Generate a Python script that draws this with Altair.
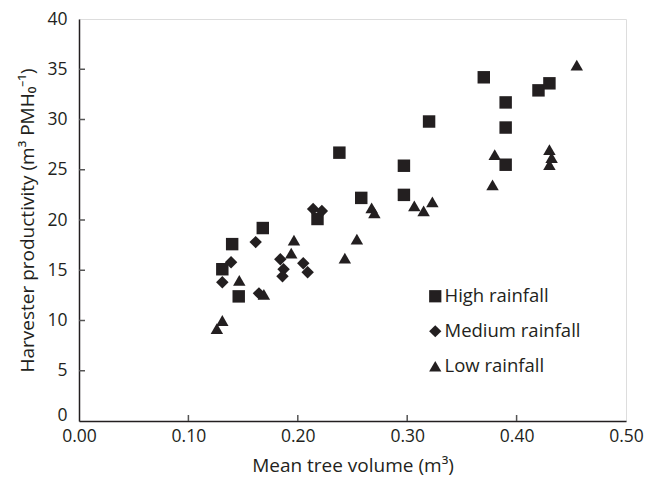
import altair as alt
import pandas as pd

# ---- data ----
groups = ["High rainfall", "Medium rainfall", "Low rainfall"]

high_x = [0.131, 0.140, 0.146, 0.168, 0.218, 0.238, 0.258, 0.297, 0.297, 0.320,
          0.370, 0.390, 0.390, 0.390, 0.420, 0.430]
high_y = [15.1, 17.6, 12.4, 19.2, 20.1, 26.7, 22.2, 25.4, 22.5, 29.8,
          34.2, 31.7, 29.2, 25.5, 32.9, 33.6]

med_x = [0.131, 0.139, 0.1615, 0.1645, 0.184, 0.187, 0.186, 0.205, 0.209, 0.214, 0.222]
med_y = [13.8, 15.8, 17.8, 12.7, 16.1, 15.1, 14.4, 15.7, 14.8, 21.1, 20.9]

low_x = [0.126, 0.131, 0.1465, 0.169, 0.194, 0.1965, 0.243, 0.254, 0.2675, 0.270,
         0.3065, 0.315, 0.323, 0.378, 0.380, 0.430, 0.432, 0.430, 0.455]
low_y = [9.2, 10.0, 14.0, 12.6, 16.7, 18.0, 16.2, 18.1, 21.2, 20.7,
         21.4, 20.9, 21.8, 23.5, 26.5, 27.0, 26.2, 25.5, 35.4]

x_tick_values = [0.0, 0.1, 0.2, 0.3, 0.4, 0.5]
y_tick_values = [0, 5, 10, 15, 20, 25, 30, 35, 40]
x_inner_ticks = [0.1, 0.2, 0.3, 0.4]
y_inner_ticks = [5, 10, 15, 20, 25, 30, 35]

rows = []
for g, xs, ys in zip(groups, [high_x, med_x, low_x], [high_y, med_y, low_y]):
    for xv, yv in zip(xs, ys):
        rows.append({"vol": xv, "prod": yv, "group": g})
df = pd.DataFrame(rows)

INK = "#231f20"
FONT = "Open Sans"
W, H = 547, 402

xscale = alt.Scale(domain=[0, 0.5], nice=False, zero=False)
yscale = alt.Scale(domain=[0, 40], nice=False)

points = alt.Chart(df).mark_point(
    filled=True, opacity=1, size=155, color=INK, strokeWidth=0
).encode(
    x=alt.X("vol:Q", scale=xscale, title="Mean tree volume (m³)",
            axis=alt.Axis(values=x_tick_values, format=".2f", ticks=False, tickSize=0,
                          labelFlush=False, labelPadding=6, labelFontSize=17.5,
                          labelColor=INK, labelFont=FONT, grid=False,
                          domainColor=INK, domainWidth=1.5,
                          titleFont=FONT, titleFontSize=19, titleFontWeight="normal",
                          titleColor=INK, titleY=50, titleBaseline="alphabetic")),
    y=alt.Y("prod:Q", scale=yscale, title="Harvester productivity (m³ PMH₀⁻¹)",
            axis=alt.Axis(values=y_tick_values, ticks=False, tickSize=0,
                          labelFlush=False, labelPadding=12, labelFontSize=17.5,
                          labelOffset={"condition": {"test": "datum.value === 0",
                                                     "value": -6},
                                       "value": 0},
                          labelColor=INK, labelFont=FONT, grid=False,
                          domainColor=INK, domainWidth=1.5,
                          titleFont=FONT, titleFontSize=19, titleFontWeight="normal",
                          titleColor=INK, titleX=-46, titleY=H / 2,
                          titleBaseline="alphabetic")),
    shape=alt.Shape("group:N",
                    scale=alt.Scale(domain=groups,
                                    range=["square", "diamond", "triangle-up"]),
                    legend=alt.Legend(title=None, orient="none", legendX=347, legendY=268,
                                      symbolSize=150, symbolFillColor=INK,
                                      symbolStrokeWidth=0,
                                      labelFont=FONT, labelFontSize=18.5,
                                      labelColor=INK, labelOffset=0,
                                      rowPadding=16, padding=0)),
)

xt = alt.Chart(pd.DataFrame({"t": x_inner_ticks})).mark_rule(
    color="#555555", strokeWidth=1.5
).encode(x=alt.X("t:Q", scale=xscale), y=alt.value(H), y2=alt.value(H - 6))

yt = alt.Chart(pd.DataFrame({"t": y_inner_ticks})).mark_rule(
    color="#555555", strokeWidth=1.5
).encode(y=alt.Y("t:Q", scale=yscale), x=alt.value(0), x2=alt.value(6))

chart = alt.layer(xt, yt, points).properties(
    width=W, height=H,
    autosize=alt.AutoSizeParams(type="none"),
    padding={"left": 71, "top": 11, "right": 18, "bottom": 55},
).configure_view(
    stroke="#3a3a3a", strokeWidth=1.5
).configure(background="white")

chart.save("out.html", embed_options={"renderer": "svg", "actions": False})
